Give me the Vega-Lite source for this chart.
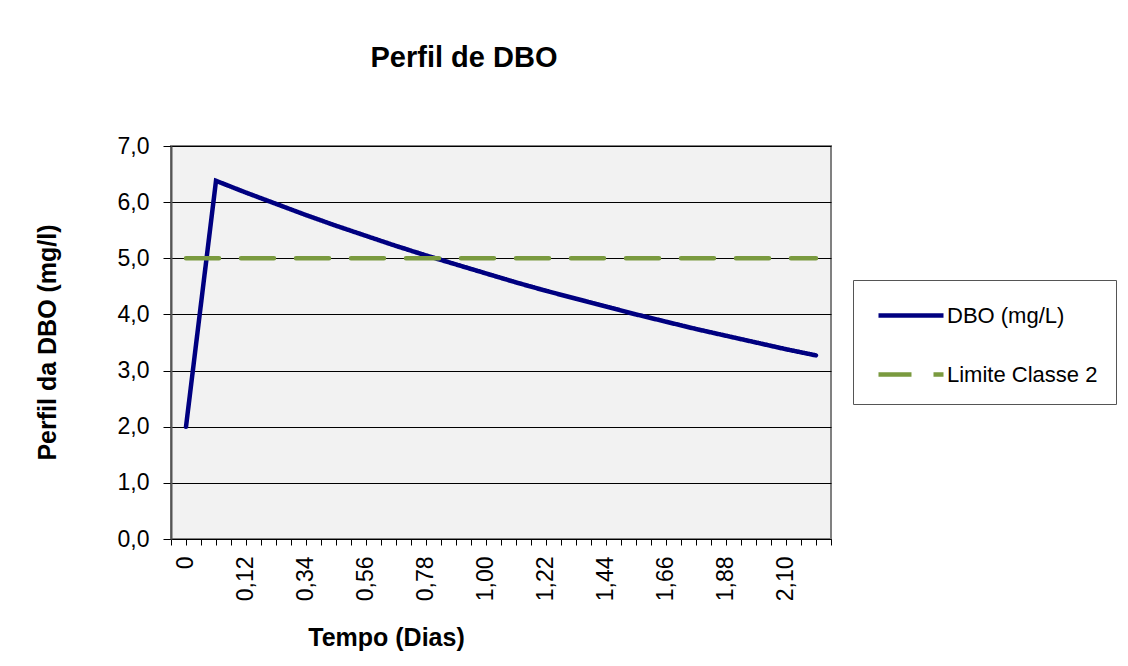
{
  "$schema": "https://vega.github.io/schema/vega-lite/v6.json",
  "autosize": {"type": "none"},
  "padding": {"left": 171, "top": 146, "right": 297, "bottom": 127},
  "width": 660,
  "height": 393,
  "background": "white",
  "title": {
    "text": "Perfil de DBO",
    "fontSize": 29,
    "fontWeight": "bold",
    "color": "#000000",
    "anchor": "middle",
    "dx": -37,
    "baseline": "alphabetic",
    "offset": 39
  },
  "data": {
    "values": [
      {"t": "0", "DBO (mg/L)": 2.0, "Limite Classe 2": 5.0},
      {"t": "0,01", "DBO (mg/L)": 6.38, "Limite Classe 2": 5.0},
      {"t": "0,12", "DBO (mg/L)": 6.17, "Limite Classe 2": 5.0},
      {"t": "0,23", "DBO (mg/L)": 5.97, "Limite Classe 2": 5.0},
      {"t": "0,34", "DBO (mg/L)": 5.77, "Limite Classe 2": 5.0},
      {"t": "0,45", "DBO (mg/L)": 5.58, "Limite Classe 2": 5.0},
      {"t": "0,56", "DBO (mg/L)": 5.40, "Limite Classe 2": 5.0},
      {"t": "0,67", "DBO (mg/L)": 5.22, "Limite Classe 2": 5.0},
      {"t": "0,78", "DBO (mg/L)": 5.05, "Limite Classe 2": 5.0},
      {"t": "0,89", "DBO (mg/L)": 4.89, "Limite Classe 2": 5.0},
      {"t": "1,00", "DBO (mg/L)": 4.73, "Limite Classe 2": 5.0},
      {"t": "1,11", "DBO (mg/L)": 4.57, "Limite Classe 2": 5.0},
      {"t": "1,22", "DBO (mg/L)": 4.42, "Limite Classe 2": 5.0},
      {"t": "1,33", "DBO (mg/L)": 4.28, "Limite Classe 2": 5.0},
      {"t": "1,44", "DBO (mg/L)": 4.14, "Limite Classe 2": 5.0},
      {"t": "1,55", "DBO (mg/L)": 4.00, "Limite Classe 2": 5.0},
      {"t": "1,66", "DBO (mg/L)": 3.87, "Limite Classe 2": 5.0},
      {"t": "1,77", "DBO (mg/L)": 3.74, "Limite Classe 2": 5.0},
      {"t": "1,88", "DBO (mg/L)": 3.62, "Limite Classe 2": 5.0},
      {"t": "1,99", "DBO (mg/L)": 3.50, "Limite Classe 2": 5.0},
      {"t": "2,10", "DBO (mg/L)": 3.38, "Limite Classe 2": 5.0},
      {"t": "2,21", "DBO (mg/L)": 3.27, "Limite Classe 2": 5.0}
    ]
  },
  "layer": [
    {
      "transform": [{"fold": ["DBO (mg/L)", "Limite Classe 2"], "as": ["serie", "valor"]}],
      "mark": {"type": "line", "strokeWidth": 4.5, "strokeCap": "round", "strokeJoin": "miter"},
      "encoding": {
        "x": {
          "field": "t",
          "type": "ordinal",
          "sort": null,
          "scale": {"type": "band", "paddingInner": 0, "paddingOuter": 0},
          "axis": {
            "orient": "bottom",
            "tickBand": "extent",
            "labels": false,
            "title": null,
            "grid": false,
            "domain": true,
            "domainColor": "#000000",
            "domainWidth": 1,
            "tickColor": "#000000",
            "tickSize": 6,
            "tickWidth": 1
          }
        },
        "y": {
          "field": "valor",
          "type": "quantitative",
          "scale": {"domain": [0, 7], "nice": false, "zero": true},
          "axis": {
            "values": [0, 1, 2, 3, 4, 5, 6, 7],
            "labelExpr": "replace(format(datum.value, '.1f'), '.', ',')",
            "grid": true,
            "gridColor": "#000000",
            "gridWidth": 1,
            "tickColor": "#000000",
            "tickSize": 8,
            "labelPadding": 14,
            "labelFontSize": 23,
            "labelColor": "#000000",
            "domainColor": "#555555",
            "domainWidth": 2,
            "title": "Perfil da DBO (mg/l)",
            "titleFontSize": 25,
            "titleFontWeight": "bold",
            "titleColor": "#000000",
            "titleAngle": 270,
            "titleBaseline": "middle",
            "titleAlign": "center",
            "titleX": -124,
            "titleY": 196
          }
        },
        "color": {
          "field": "serie",
          "type": "nominal",
          "scale": {"domain": ["DBO (mg/L)", "Limite Classe 2"], "range": ["#000080", "#7A9A3F"]},
          "legend": {
            "title": null,
            "orient": "none",
            "legendX": 682,
            "legendY": 134,
            "symbolType": "M-0.667,0H3.667",
            "symbolSize": 900,
            "symbolStrokeWidth": 4.5,
            "labelFontSize": 22,
            "labelColor": "#000000",
            "labelOffset": 41,
            "padding": 18,
            "rowPadding": 30,
            "strokeColor": "#555555",
            "fillColor": "#FFFFFF"
          }
        },
        "strokeDash": {
          "field": "serie",
          "type": "nominal",
          "scale": {"domain": ["DBO (mg/L)", "Limite Classe 2"], "range": [[1, 0], [33, 22]]},
          "legend": {
            "title": null,
            "orient": "none",
            "legendX": 682,
            "legendY": 134,
            "symbolType": "M-0.667,0H3.667",
            "symbolSize": 900,
            "symbolStrokeWidth": 4.5,
            "labelFontSize": 22,
            "labelColor": "#000000",
            "labelOffset": 41,
            "padding": 18,
            "rowPadding": 30,
            "strokeColor": "#555555",
            "fillColor": "#FFFFFF"
          }
        }
      }
    },
    {
      "mark": {"type": "point", "opacity": 0},
      "encoding": {
        "x": {
          "field": "t",
          "type": "ordinal",
          "sort": null,
          "axis": {
            "orient": "bottom",
            "domain": false,
            "grid": false,
            "tickColor": "#000000",
            "tickSize": 6,
            "tickWidth": 1,
            "labelAngle": 270,
            "labelOverlap": false,
            "labelExpr": "indexof(['0','0,12','0,34','0,56','0,78','1,00','1,22','1,44','1,66','1,88','2,10'], datum.label) >= 0 ? datum.label : ''",
            "labelPadding": 11,
            "labelFontSize": 23,
            "labelColor": "#000000",
            "title": "Tempo (Dias)",
            "titleFontSize": 25,
            "titleFontWeight": "bold",
            "titleColor": "#000000",
            "titleAlign": "center",
            "titleBaseline": "alphabetic",
            "titleX": 215,
            "titleY": 106
          }
        }
      }
    }
  ],
  "resolve": {"axis": {"x": "independent"}},
  "config": {
    "font": "Liberation Sans",
    "view": {"fill": "#F2F2F2", "stroke": "#808080", "strokeWidth": 2}
  }
}
